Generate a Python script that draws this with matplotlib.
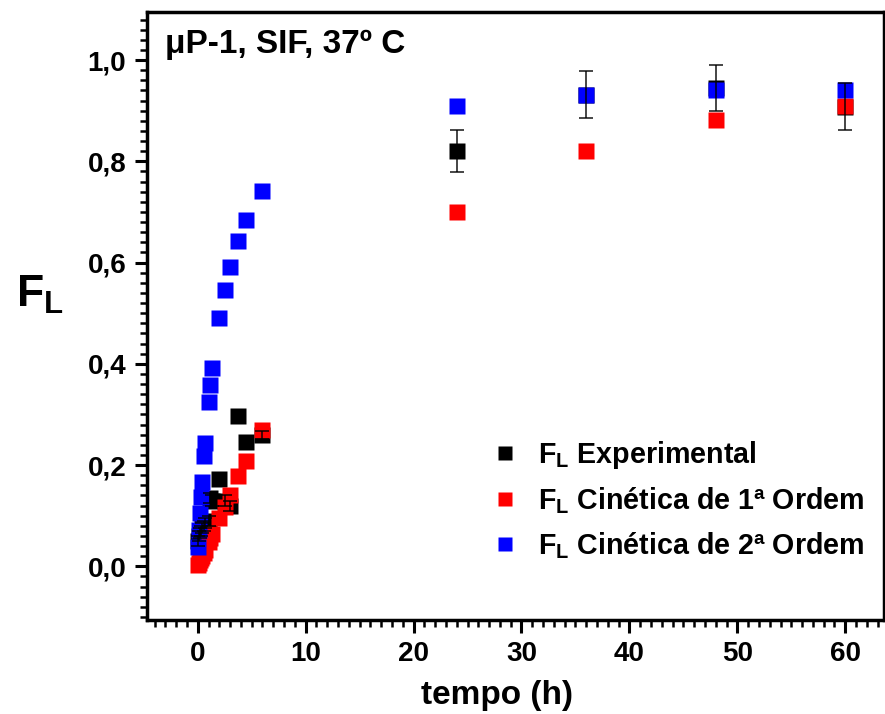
import matplotlib
matplotlib.use("Agg")
import matplotlib.pyplot as plt
from matplotlib.ticker import MultipleLocator, FuncFormatter
from matplotlib.lines import Line2D

plt.rcParams['font.family'] = ['Liberation Sans', 'DejaVu Sans']
plt.rcParams['font.weight'] = 'bold'
plt.rcParams['mathtext.fontset'] = 'custom'
plt.rcParams['mathtext.bf'] = 'Liberation Sans:bold'
plt.rcParams['mathtext.rm'] = 'Liberation Sans:bold'

# time (h)
tempo = [0.06, 0.12, 0.25, 0.34, 0.40, 0.55, 0.65, 1.00, 1.17, 1.32,
         2.00, 2.50, 3.00, 3.76, 4.50, 6.00, 24, 36, 48, 60]
# experimental release fraction
fl_exp = [0.050, 0.060, 0.065, 0.070, 0.075, 0.080, 0.085, 0.090, 0.135, 0.130,
          0.172, 0.130, 0.120, 0.296, 0.246, 0.260, 0.820, 0.932, 0.945, 0.908]
fl_exp_err = [0.010, 0.010, 0.010, 0.010, 0.010, 0.010, 0.010, 0.010, 0.010, 0.010,
              0.010, 0.010, 0.010, 0.008, 0.008, 0.008, 0.041, 0.047, 0.046, 0.046]
# first-order kinetics model
fl_ord1 = [0.003, 0.006, 0.012, 0.016, 0.020, 0.027, 0.032, 0.048, 0.056, 0.063,
           0.095, 0.118, 0.140, 0.178, 0.209, 0.270, 0.700, 0.820, 0.881, 0.910]
# second-order kinetics model
fl_ord2 = [0.038, 0.071, 0.105, 0.137, 0.167, 0.218, 0.243, 0.325, 0.359, 0.391,
           0.490, 0.546, 0.591, 0.643, 0.684, 0.741, 0.910, 0.931, 0.941, 0.941]

labels = [r'$\mathbf{F_L}$ Experimental',
          r'$\mathbf{F_L}$ Cinética de 1ª Ordem',
          r'$\mathbf{F_L}$ Cinética de 2ª Ordem']

fig = plt.figure(figsize=(8.85, 7.14), dpi=100)
ax = fig.add_axes([147/885, 1-620/714, 1-147/885-0.001, (620-12)/714])

ms = 11.5
ax.plot(tempo, fl_exp, 's', color='black', ms=ms, mec='none', zorder=2)
ax.plot(tempo, fl_ord1, 's', color='#ff0000', ms=ms, mec='none', zorder=3)
ax.plot(tempo, fl_ord2, 's', color='#0000ff', ms=ms, mec='none', zorder=4)
ax.errorbar(tempo, fl_exp, yerr=fl_exp_err, fmt='none', ecolor='black',
            elinewidth=1.2, capsize=5, capthick=1.2, zorder=5, alpha=0.85)

ax.set_xlim(-4.7, 63.6)
ax.set_ylim(-0.106, 1.095)
ax.xaxis.set_major_locator(MultipleLocator(10))
ax.xaxis.set_minor_locator(MultipleLocator(1))
ax.yaxis.set_major_locator(MultipleLocator(0.2))
ax.yaxis.set_minor_locator(MultipleLocator(0.02))
ax.yaxis.set_major_formatter(FuncFormatter(lambda v, p: f'{v:.1f}'.replace('.', ',')))
ax.xaxis.set_major_formatter(FuncFormatter(lambda v, p: f'{v:.0f}'))

ax.tick_params(which='major', direction='out', length=9, width=2.2,
               labelsize=20, pad=6)
ax.tick_params(which='minor', direction='out', length=5, width=1.8)
ax.tick_params(top=False, right=False, which='both')
for lbl in ax.get_xticklabels() + ax.get_yticklabels():
    lbl.set_fontweight('bold')
for s in ax.spines.values():
    s.set_linewidth(2.5)

ax.set_xlabel('tempo (h)', fontsize=24, fontweight='bold')
ax.xaxis.set_label_coords((497-147)/738, -0.098)
ax.set_ylabel(r'$\mathbf{F_L}$', fontsize=32, rotation=0)
ax.yaxis.set_label_coords((40-147)/738, 0.50)

ax.text((165-147)/738, (620-45)/608, 'μP-1, SIF, 37º C', transform=ax.transAxes,
        fontsize=24, fontweight='bold', va='center', ha='left')

handles = [Line2D([], [], ls='none', marker='s', color=c, ms=9.5, mec='none')
           for c in ['black', '#ff0000', '#0000ff']]
leg = ax.legend(handles, labels, loc='lower left',
                bbox_to_anchor=((465-147)/738, (620-587)/608),
                borderaxespad=0.5, borderpad=0.4,
                frameon=False, handlelength=1.0, handletextpad=0.65,
                labelspacing=0.5, prop={'weight': 'bold', 'size': 20.6})

fig.savefig('out.png', dpi=100)
